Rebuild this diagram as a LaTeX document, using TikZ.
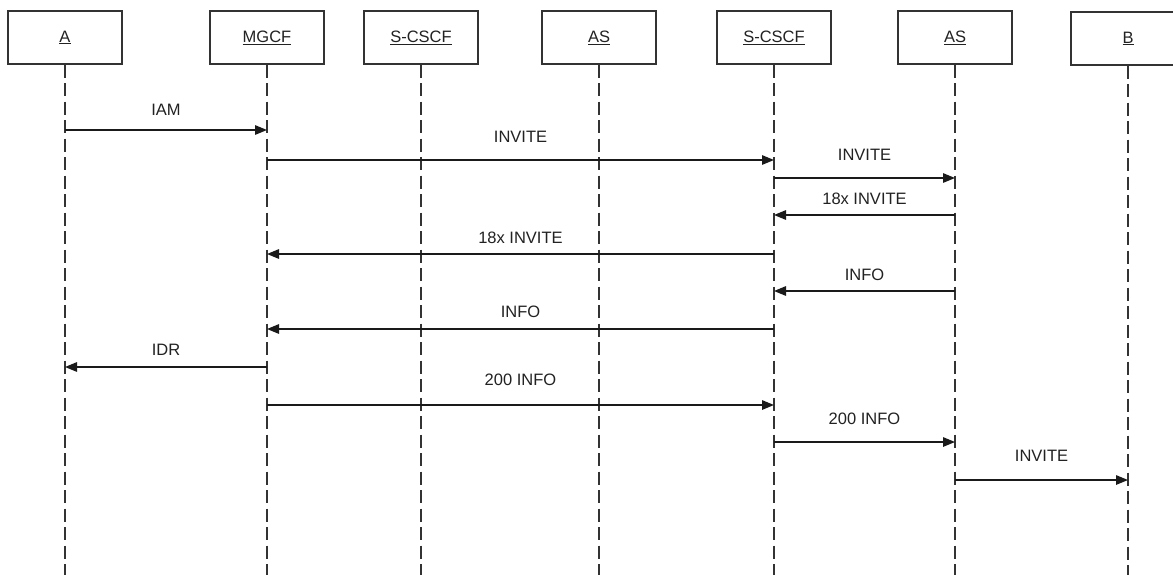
\documentclass[tikz,border=0pt]{standalone}
\usepackage{fontspec}
\setmainfont{Liberation Sans}
\usetikzlibrary{arrows.meta}
\definecolor{boxline}{HTML}{333333}
\definecolor{msgline}{HTML}{1A1A1A}
\definecolor{txt}{HTML}{222222}
\begin{document}
\begin{tikzpicture}[x=1pt,y=-1pt,
  entity/.style={draw=boxline, line width=1.4pt, minimum width=114pt, minimum height=53pt,
    inner sep=0pt, text=txt, font=\fontsize{16.5}{19}\selectfont},
  life/.style={draw=boxline, line width=1.3pt, dash pattern=on 13pt off 5.5pt},
  msg/.style={draw=msgline, line width=1.4pt, -{Triangle[length=12pt,width=9.5pt]}},
  lbl/.style={text=txt, font=\fontsize{16.5}{19}\selectfont, inner sep=0pt}]
\useasboundingbox[fill=white] (0,0) rectangle (1173,574);

\node[entity] (A)  at (65,37.5)   {\underline{A}};
\node[entity] (M)  at (267,37.5)  {\underline{MGCF}};
\node[entity] (S1) at (421,37.5)  {\underline{S-CSCF}};
\node[entity] (P1) at (599,37.5)  {\underline{AS}};
\node[entity] (S2) at (774,37.5)  {\underline{S-CSCF}};
\node[entity] (P2) at (955,37.5)  {\underline{AS}};
\node[entity] (B)  at (1128,38.5) {\underline{B}};

\foreach \n in {A,M,S1,P1,S2,P2,B}{
  \coordinate (\n end) at (\n.south |- 0,576);
  \draw[life] (\n.south) -- (\n end);
}

\draw[msg] (A |- 0,130) -- node[lbl, yshift=20pt] {IAM} (M |- 0,130);
\draw[msg] (M |- 0,160) -- node[lbl, yshift=23pt] {INVITE} (S2 |- 0,160);
\draw[msg] (S2 |- 0,178) -- node[lbl, yshift=23pt] {INVITE} (P2 |- 0,178);
\draw[msg] (P2 |- 0,215) -- node[lbl, yshift=16pt] {18x INVITE} (S2 |- 0,215);
\draw[msg] (S2 |- 0,254) -- node[lbl, yshift=16pt] {18x INVITE} (M |- 0,254);
\draw[msg] (P2 |- 0,291) -- node[lbl, yshift=16pt] {INFO} (S2 |- 0,291);
\draw[msg] (S2 |- 0,329) -- node[lbl, yshift=17pt] {INFO} (M |- 0,329);
\draw[msg] (M |- 0,367) -- node[lbl, yshift=17pt] {IDR} (A |- 0,367);
\draw[msg] (M |- 0,405) -- node[lbl, yshift=25pt] {200 INFO} (S2 |- 0,405);
\draw[msg] (S2 |- 0,442) -- node[lbl, yshift=23pt] {200 INFO} (P2 |- 0,442);
\draw[msg] (P2 |- 0,480) -- node[lbl, yshift=24pt] {INVITE} (B |- 0,480);
\end{tikzpicture}
\end{document}
